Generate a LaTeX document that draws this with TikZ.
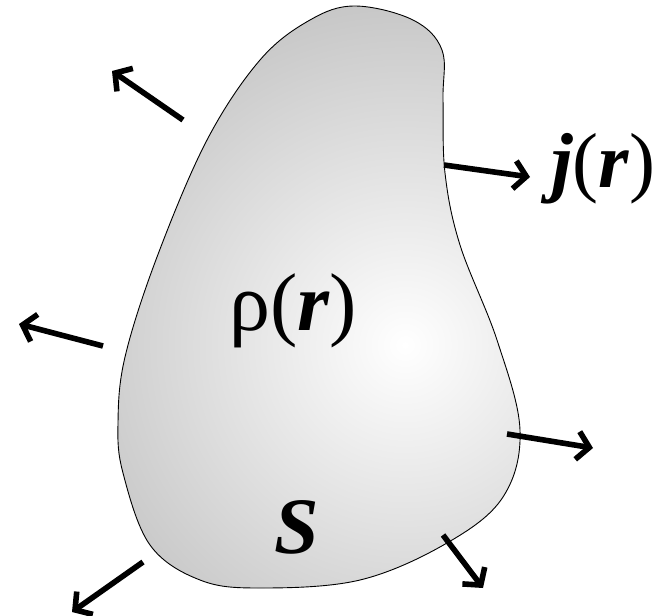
\documentclass[tikz,border=0pt]{standalone}
\usepackage{fontspec}
\setmainfont{Liberation Serif}
\usetikzlibrary{arrows.meta}
\tikzset{
  flux/.style={line width=5.6pt, -{Straight Barb[length=12pt,width=28pt]}},
  lbl/.style={inner sep=0pt, anchor=base west},
}
\begin{document}
\begin{tikzpicture}[x=1pt,y=-1pt]
\useasboundingbox (0,0) rectangle (659,616);
\def\blob{plot[smooth cycle, tension=0.6] coordinates {(355,6) (413,20) (442,50) (443,100) (445,173) (460,245) (497,340) (520,430) (503,497) (447,543) (360,580) (260,588) (200,580) (150,545) (123,473) (118,423) (125,357) (157,257) (207,140) (260,60) (310,20)}}
\begin{scope}
  \clip \blob;
  \shade[inner color=white, outer color=black!37] (405,345) circle (580pt);
\end{scope}
\draw[line width=0.9pt] \blob;
% arrow end points
\coordinate (a1s) at (183,120); \coordinate (a1e) at (112,71);
\coordinate (a2s) at (444,165); \coordinate (a2e) at (530,177);
\coordinate (a3s) at (103,346); \coordinate (a3e) at (19,324);
\coordinate (a4s) at (507,434); \coordinate (a4e) at (593,448);
\coordinate (a5s) at (443,535); \coordinate (a5e) at (483,588);
\coordinate (a6s) at (143,562); \coordinate (a6e) at (72,612);
\draw[flux] (a1s) -- (a1e);
\draw[flux] (a2s) -- (a2e);
\draw[flux] (a3s) -- (a3e);
\draw[flux] (a4s) -- (a4e);
\draw[flux] (a5s) -- (a5e);
\draw[flux] (a6s) -- (a6e);
\node[lbl] (jr) at (551,187) {\fontsize{78}{88}\selectfont{\bfseries\itshape j}({\bfseries\itshape r})};
\node[lbl] (rho) at (229,330) {\fontsize{82}{90}\selectfont ρ({\bfseries\itshape r})};
\node[lbl] (S) at (274,553) {\fontsize{80}{90}\selectfont\bfseries\itshape S};
\end{tikzpicture}
\end{document}
